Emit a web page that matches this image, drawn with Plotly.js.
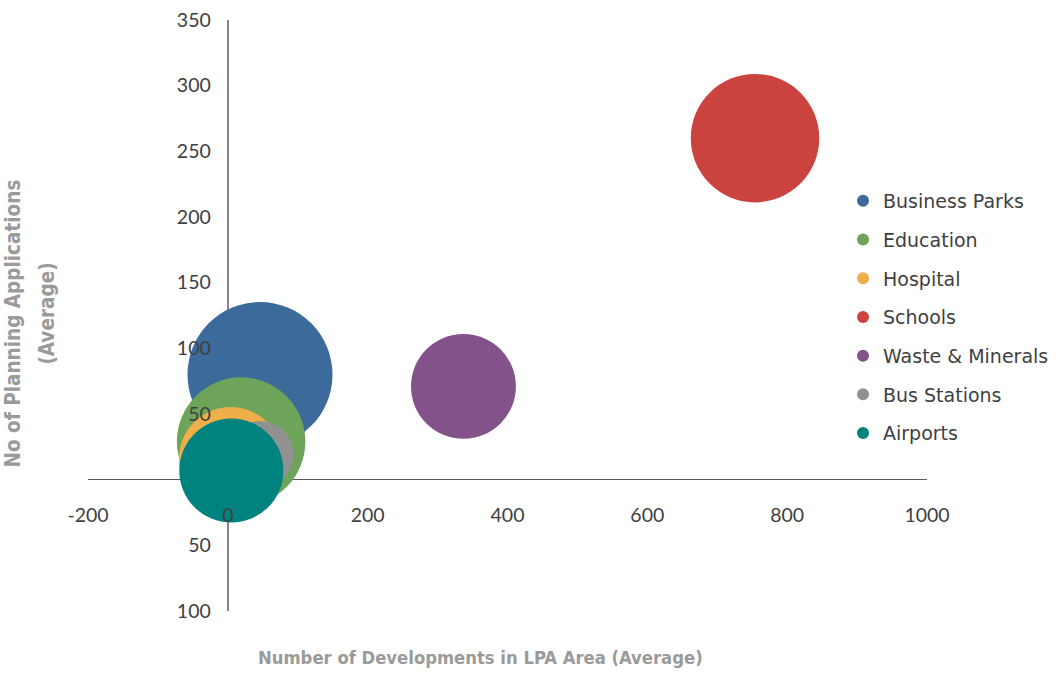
<!DOCTYPE html>
<html>
<head>
<meta charset="utf-8">
<script src="https://cdn.plot.ly/plotly-3.0.1.min.js"></script>
<style>
  html, body { margin: 0; padding: 0; background: #ffffff; }
  #chart { width: 1056px; height: 676px; }
</style>
</head>
<body>
<div id="chart"></div>
<script>
// Average developments vs. planning applications per facility type
const categories = ['Business Parks', 'Education', 'Hospital', 'Schools', 'Waste & Minerals', 'Bus Stations', 'Airports'];
const developments = [46, 19, 4, 754, 337, 46, 5];
const applications = [80, 29, 16, 260, 71, 19, 7];
const bubbleSizes = [130, 102, 66, 102, 68, 28, 67];

const xTickVals = [-200, 0, 200, 400, 600, 800, 1000];
const xTickText = ['-200', '0', '200', '400', '600', '800', '1000'];
const yTickVals = [-100, -50, 50, 100, 150, 200, 250, 300, 350];
const yTickText = ['100', '50', '50', '100', '150', '200', '250', '300', '350'];

const colors = ['#3C6A9B', '#6EA35A', '#EEAF4A', '#CB433F', '#83528A', '#919191', '#00827E'];

// bubble area scales with the size value; largest bubble ~145px across
const maxDiameter = 145;
const sizeref = 2 * Math.max(...bubbleSizes) / (maxDiameter * maxDiameter);

const traces = categories.map((name, i) => ({
  type: 'scatter',
  mode: 'markers',
  name: name,
  legendgroup: name,
  x: [developments[i]],
  y: [applications[i]],
  marker: {
    size: [bubbleSizes[i]],
    sizemode: 'area',
    sizeref: sizeref,
    color: colors[i],
    opacity: 1,
    line: { width: 0 }
  },
  hoverinfo: 'skip'
}));

const tickFont = { family: 'Lato, sans-serif', size: 19.5, color: '#404040' };
const titleFamily = '"DejaVu Sans Condensed", "DejaVu Sans", sans-serif';
const xTitleFont = { family: titleFamily, size: 18.3, color: '#9a9a9a', weight: 'bold' };
const yTitleFont = { family: titleFamily, size: 20.5, color: '#9a9a9a', weight: 'bold' };

const layout = {
  width: 1056,
  height: 676,
  margin: { l: 88, r: 129, t: 20, b: 65, pad: 0, autoexpand: false },
  paper_bgcolor: '#ffffff',
  plot_bgcolor: '#ffffff',
  showlegend: true,
  xaxis: {
    range: [-200, 1000],
    tickvals: xTickVals,
    ticktext: xTickText,
    tickfont: tickFont,
    showgrid: false,
    showline: false,
    ticks: '',
    zeroline: true,
    zerolinecolor: '#868686',
    zerolinewidth: 2,
    anchor: 'free',
    position: 0.2223,
    ticklabelstandoff: 22,
    fixedrange: true
  },
  yaxis: {
    range: [-100, 350],
    tickvals: yTickVals,
    ticktext: yTickText,
    tickfont: tickFont,
    showgrid: false,
    showline: false,
    ticks: '',
    zeroline: true,
    zerolinecolor: '#595959',
    zerolinewidth: 1.3,
    anchor: 'free',
    position: 0.1666,
    ticklabelstandoff: 17,
    fixedrange: true
  },
  legend: {
    x: 0.8999,
    xanchor: 'left',
    y: 0.7259,
    yanchor: 'top',
    traceorder: 'grouped',
    tracegroupgap: 11,
    itemsizing: 'constant',
    font: { family: '"DejaVu Sans", sans-serif', size: 19, color: '#404040' },
    bgcolor: 'rgba(0,0,0,0)',
    borderwidth: 0
  },
  annotations: [
    {
      text: 'Number of Developments in LPA Area (Average)',
      xref: 'paper', yref: 'paper',
      x: 0.4684, y: -0.0795,
      xanchor: 'center', yanchor: 'middle',
      showarrow: false,
      font: xTitleFont
    },
    {
      text: 'No of Planning Applications',
      xref: 'paper', yref: 'paper',
      x: -0.0894, y: 0.4865,
      xanchor: 'center', yanchor: 'middle',
      textangle: -90,
      showarrow: false,
      font: yTitleFont
    },
    {
      text: '(Average)',
      xref: 'paper', yref: 'paper',
      x: -0.0483, y: 0.504,
      xanchor: 'center', yanchor: 'middle',
      textangle: -90,
      showarrow: false,
      font: yTitleFont
    }
  ]
};

Plotly.newPlot('chart', traces, layout, { displayModeBar: false, staticPlot: true });
</script>
</body>
</html>
